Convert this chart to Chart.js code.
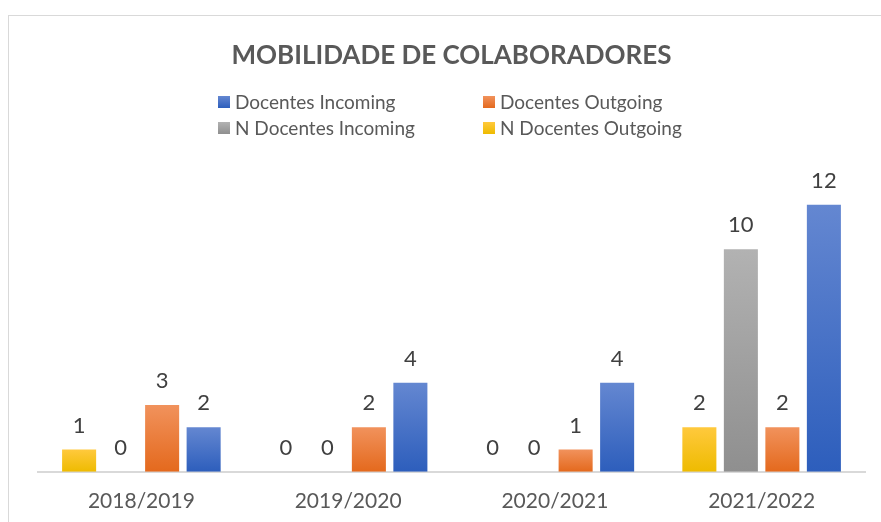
<!DOCTYPE html>
<html>
<head>
<meta charset="utf-8">
<script src="https://cdn.jsdelivr.net/npm/chart.js@4.4.0/dist/chart.umd.min.js"></script>
<style>
  html, body { margin: 0; padding: 0; background: #fff; }
  #wrap { position: relative; width: 881px; height: 522px; overflow: hidden; }
  #frame { position: absolute; left: 8px; top: 15px; width: 900px; height: 600px; border: 1px solid #d9d9d9; box-sizing: border-box; }
  #myChart { position: absolute; left: 0; top: 0; }
  .legend-item { position: absolute; font-family: Lato, sans-serif; font-size: 19px; color: #595959; white-space: nowrap; line-height: 20px; }
  .legend-item span.box { position: absolute; left: 0; top: 4px; width: 12px; height: 12px; }
  .legend-item span.txt { position: absolute; left: 17px; top: 0; }
</style>
</head>
<body>
<div id="wrap">
  <div id="frame"></div>
  <canvas id="myChart" width="881" height="522"></canvas>
  <div id="legend"></div>
</div>
<script>
const categorias = ["2018/2019", "2019/2020", "2020/2021", "2021/2022"];
const nDocentesOutgoing = [1, 0, 0, 2];
const nDocentesIncoming = [0, 0, 0, 10];
const docentesOutgoing = [3, 2, 1, 2];
const docentesIncoming = [2, 4, 4, 12];

// colores de cada serie: [arriba, abajo]
const colores = {
    "N Docentes Outgoing": ["#ffc93d", "#eebb00"],
    "N Docentes Incoming": ["#b2b2b2", "#8f8f8f"],
    "Docentes Outgoing": ["#f1925c", "#e4691d"],
    "Docentes Incoming": ["#6487d1", "#2d5ebc"]
};

function degradado(nombre) {
    return function (context) {
        const chart = context.chart;
        const y = chart.scales.y;
        const par = colores[nombre];
        if (!y || context.raw === undefined) return par[1];
        const top = y.getPixelForValue(context.raw);
        const base = y.getPixelForValue(0);
        if (!isFinite(top) || !isFinite(base) || base - top < 1) return par[1];
        const g = chart.ctx.createLinearGradient(0, top, 0, base);
        g.addColorStop(0, par[0]);
        g.addColorStop(1, par[1]);
        return g;
    };
}

function serie(nombre, valores) {
    return {
        label: nombre,
        data: valores,
        backgroundColor: degradado(nombre),
        borderWidth: 0,
        barPercentage: 0.82,
        categoryPercentage: 0.803
    };
}

// etiquetas de valor encima de cada barra
const etiquetas = {
    id: "etiquetas",
    afterDatasetsDraw(chart) {
        const ctx = chart.ctx;
        ctx.save();
        ctx.font = "22px Lato, sans-serif";
        ctx.fillStyle = "#404040";
        ctx.textAlign = "center";
        ctx.textBaseline = "middle";
        chart.data.datasets.forEach((ds, i) => {
            chart.getDatasetMeta(i).data.forEach((bar, j) => {
                ctx.fillText(String(ds.data[j]), bar.x, bar.y - 24);
            });
        });
        ctx.restore();
    }
};

const chart = new Chart("myChart", {
    type: "bar",
    data: {
        labels: categorias,
        datasets: [
            serie("N Docentes Outgoing", nDocentesOutgoing),
            serie("N Docentes Incoming", nDocentesIncoming),
            serie("Docentes Outgoing", docentesOutgoing),
            serie("Docentes Incoming", docentesIncoming)
        ]
    },
    options: {
        responsive: false,
        animation: false,
        layout: { padding: { top: 21, left: 38, right: 16, bottom: -9 } },
        plugins: {
            legend: { display: false },
            tooltip: { enabled: false },
            title: {
                display: true,
                text: "MOBILIDADE DE COLABORADORES",
                color: "#595959",
                font: { family: "Lato", size: 26, weight: "bold", lineHeight: 1.2 },
                padding: { top: 19, bottom: 89 }
            }
        },
        scales: {
            y: { display: false, min: 0, max: 14 },
            x: {
                grid: { display: false, drawTicks: false },
                border: { display: true, color: "#d9d9d9", width: 2 },
                ticks: {
                    color: "#595959",
                    padding: 17,
                    font: { family: "Lato", size: 21 }
                }
            }
        }
    },
    plugins: [etiquetas]
});

// leyenda en dos columnas, en el orden de Excel
const posiciones = [[218, 92], [483, 92], [218, 118], [483, 118]];
const leyenda = document.getElementById("legend");
chart.data.datasets.slice().reverse().forEach((ds, i) => {
    const par = colores[ds.label];
    const item = document.createElement("div");
    item.className = "legend-item";
    item.style.left = posiciones[i][0] + "px";
    item.style.top = posiciones[i][1] + "px";
    item.innerHTML = '<span class="box" style="background: linear-gradient(' + par[0] + ', ' + par[1] + ')"></span><span class="txt"></span>';
    item.querySelector(".txt").textContent = ds.label;
    leyenda.appendChild(item);
});
</script>
</body>
</html>
